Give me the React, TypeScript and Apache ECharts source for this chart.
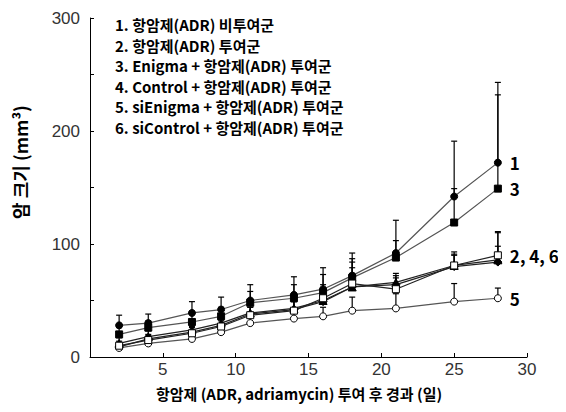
import React, { useEffect, useRef } from "react";
import * as echarts from "echarts";

const days = [2, 4, 7, 9, 11, 14, 16, 18, 21, 25, 28];
const s1 = [28, 30, 39, 42, 50, 55, 60, 72, 92, 142, 172];
const s1Err = [9, 8, 10, 11, 14, 16, 19, 20, 29, 49, 71];
const s2 = [12, 18, 24, 30, 39, 43, 50, 62, 66, 81, 86];
const s2Err = [5, 5, 6, 6, 8, 8, 10, 12, 8, 12, 12];
const s3 = [20, 26, 31, 36, 48, 52, 57, 70, 88, 119, 149];
const s3Err = [6, 6, 8, 8, 10, 12, 16, 17, 15, 30, 83];
const s4 = [9, 16, 22, 28, 38, 42, 49, 62, 64, 80, 84];
const s4Err = [4, 4, 5, 5, 6, 7, 10, 22, 8, 10, 26];
const s5 = [8, 12, 16, 22, 30, 34, 36, 41, 43, 49, 52];
const s5Err = [3, 3, 4, 4, 5, 6, 8, 12, 13, 16, 9];
const s6 = [10, 15, 21, 27, 37, 41, 52, 65, 60, 81, 90];
const s6Err = [4, 4, 5, 5, 7, 8, 12, 14, 10, 10, 21];

const legendLines = [
  "1. 항암제(ADR) 비투여군",
  "2. 항암제(ADR) 투여군",
  "3. Enigma + 항암제(ADR) 투여군",
  "4. Control + 항암제(ADR) 투여군",
  "5. siEnigma + 항암제(ADR) 투여군",
  "6. siControl + 항암제(ADR) 투여군",
];
const endLabels = ["1", "", "3", "", "5", "2, 4, 6"];
const xTitle = "항암제 (ADR, adriamycin) 투여 후 경과 (일)";
const yTitle = "암 크기 (mm³)";

const KFONT = "'Noto Sans CJK KR', sans-serif";

export default function App() {
  const ref = useRef<HTMLDivElement>(null);
  useEffect(() => {
    const chart = echarts.init(ref.current!, null, { renderer: "svg" });
    const seriesDefs = [
      { v: s1, e: s1Err, symbol: "circle", filled: true },
      { v: s2, e: s2Err, symbol: "triangle", filled: true },
      { v: s3, e: s3Err, symbol: "rect", filled: true },
      { v: s4, e: s4Err, symbol: "diamond", filled: true },
      { v: s5, e: s5Err, symbol: "circle", filled: false },
      { v: s6, e: s6Err, symbol: "rect", filled: false },
    ];
    const errSeries = seriesDefs.map((d) => ({
      type: "custom",
      silent: true,
      z: 1,
      data: days.map((x, i) => [x, d.v[i], d.e[i]]),
      renderItem: (params: any, api: any) => {
        const x = api.value(0);
        const y = api.value(1);
        const e = api.value(2);
        const p0 = api.coord([x, y]);
        const p1 = api.coord([x, y + e]);
        return {
          type: "group",
          children: [
            { type: "line", shape: { x1: p0[0], y1: p0[1], x2: p1[0], y2: p1[1] }, style: { stroke: "#000", lineWidth: 1.2 } },
            { type: "line", shape: { x1: p1[0] - 3, y1: p1[1], x2: p1[0] + 3, y2: p1[1] }, style: { stroke: "#000", lineWidth: 1.2 } },
          ],
        };
      },
    }));
    const lineSeries = seriesDefs.map((d, k) => ({
      type: "line",
      z: 3,
      data: days.map((x, i) => [x, d.v[i]]),
      symbol: d.symbol,
      symbolSize: d.symbol === "triangle" || d.symbol === "diamond" ? 8 : 7,
      showAllSymbol: true,
      lineStyle: { color: k === 1 || k === 3 || k === 5 ? "#222" : "#555", width: 1.2 },
      itemStyle: {
        color: d.filled ? "#000" : "#fff",
        borderColor: "#000",
        borderWidth: 1,
      },
      endLabel: endLabels[k]
        ? {
            show: true,
            formatter: endLabels[k],
            distance: 12,
            color: "#000",
            fontFamily: KFONT,
            fontWeight: "bold",
            fontSize: 17,
          }
        : { show: false },
    }));
    chart.setOption({
      animation: false,
      grid: { left: 90, right: 39, top: 18, bottom: 55 },
      xAxis: {
        type: "value",
        min: 0,
        max: 30,
        interval: 5,
        axisLine: { lineStyle: { color: "#000", width: 1 } },
        axisTick: { inside: true, length: 4, lineStyle: { color: "#000" } },
        axisLabel: {
          color: "#333",
          fontSize: 17,
          fontFamily: "'Liberation Sans', Arial, sans-serif",
          margin: 4,
          formatter: (v: number) => (v === 0 ? "" : String(v)),
        },
        splitLine: { show: false },
      },
      yAxis: {
        type: "value",
        min: 0,
        max: 300,
        interval: 50,
        axisLine: { show: true, lineStyle: { color: "#000", width: 1 } },
        axisTick: { show: true, inside: true, length: 4, lineStyle: { color: "#000" } },
        axisLabel: {
          color: "#333",
          fontSize: 17,
          fontFamily: "'Liberation Sans', Arial, sans-serif",
          margin: 10,
          formatter: (v: number) => (v % 100 === 0 ? String(v) : ""),
        },
        splitLine: { show: false },
      },
      graphic: [
        ...legendLines.map((t, i) => ({
          type: "text",
          left: 115,
          top: 17 + i * 20.5,
          style: {
            text: t,
            fill: "#000",
            font: `bold 15px ${KFONT}`,
          },
        })),
        {
          type: "text",
          x: 299,
          y: 393,
          style: {
            text: xTitle,
            fill: "#000",
            font: `bold 15px ${KFONT}`,
            align: "center",
            verticalAlign: "middle",
          },
        },
        {
          type: "text",
          x: 20,
          y: 162,
          rotation: Math.PI / 2,
          style: {
            text: yTitle,
            fill: "#000",
            font: `bold 18px ${KFONT}`,
            align: "center",
            verticalAlign: "middle",
          },
        },
      ],
      series: [...errSeries, ...lineSeries],
    });
    return () => chart.dispose();
  }, []);
  return <div ref={ref} style={{ width: 566, height: 412, margin: -8 }} />;
}
